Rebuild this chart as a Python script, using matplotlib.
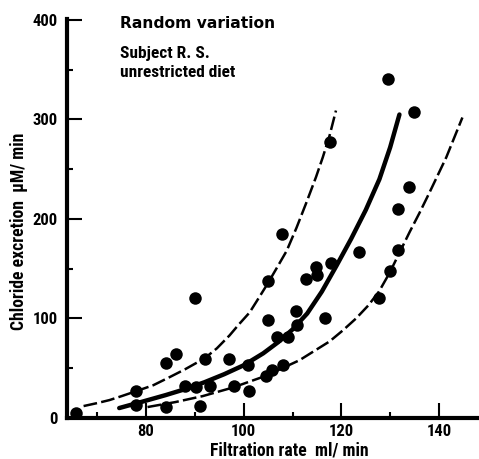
import matplotlib
matplotlib.use("Agg")
import matplotlib.pyplot as plt
from matplotlib import font_manager as fm
from matplotlib.ticker import MultipleLocator

# ---- data ----
filtration = [65.6, 78.0, 78.0, 84.0, 86.1, 84.0, 90.1, 88.0, 90.2, 93.0,
              92.0, 91.1, 97.0, 98.0, 100.8, 101.0, 104.9, 104.9, 104.6, 105.8,
              106.8, 109.0, 108.0, 110.7, 110.9, 112.8, 114.8, 115.0, 117.9, 116.7,
              123.6, 129.5, 134.8, 117.6, 133.8, 131.6, 107.9, 131.7, 129.9, 127.7]
chloride = [5, 27, 13, 55, 64, 11, 121, 32, 31, 32.5,
            59, 12, 59.5, 32.5, 53, 27, 137.6, 98.5, 42, 48,
            81, 81, 53, 107.6, 93.2, 140, 151.7, 143.4, 155.3, 100.6,
            166.7, 340.5, 308, 277, 232, 210.2, 184.5, 169, 147.7, 120.6]

upper_x = [67.2, 70.0, 72.5, 75.0, 78.0, 81.5, 84.8, 88.0, 92.0, 94.5, 97.1, 99.0,
           101.2, 103.0, 104.9, 106.8, 108.8, 110.8, 112.8, 114.8, 116.2, 117.6, 118.9]
upper_y = [12, 15, 18, 22, 27, 33, 41, 49, 60, 70, 83, 94,
           106, 120, 135, 151, 168, 191, 216, 242, 262, 284, 309]

mid_x = [74.5, 79.3, 84.0, 88.0, 92.0, 96.0, 100.0, 104.0, 107.0, 110.0, 113.0,
         116.0, 119.0, 122.0, 125.0, 127.8, 130.0, 131.9]
mid_y = [10, 16.5, 23, 29, 36, 44, 53, 65, 76, 89, 105,
         127, 153, 180, 209, 240, 272, 305]

lower_x = [80.3, 86.0, 91.6, 97.7, 104.6, 111.4, 117.6, 120.3, 123.0, 125.5, 127.7,
           129.9, 131.8, 134.0, 136.0, 138.0, 141.5, 144.8]
lower_y = [11, 16, 22, 30.5, 42.5, 58, 77, 88, 100, 113, 127,
           146, 165, 187, 206, 226, 262, 302]

x_major = [80, 100, 120, 140]
y_major = [0, 100, 200, 300, 400]

title_text = "Random variation"
note_lines = ["Subject R. S.", "unrestricted diet"]
xlabel_text = "Filtration rate  ml/ min"
ylabel_text = "Chloride excretion  \u00b5M/ min"

# ---- fonts: a narrow bold sans if one is installed ----
names = {f.name for f in fm.fontManager.ttflist}
if "Liberation Sans Narrow" in names:
    NARROW, tsize, lsize, nsize = ["Liberation Sans Narrow", "DejaVu Sans"], 12, 13.0, 12.8
elif "Roboto Condensed" in names:
    NARROW, tsize, lsize, nsize = ["Roboto Condensed", "DejaVu Sans"], 12, 12.7, 12.5
else:
    NARROW, tsize, lsize, nsize = ["Liberation Sans", "DejaVu Sans"], 11, 10.8, 11.0

W, H = 479, 459
fig = plt.figure(figsize=(W / 100, H / 100), dpi=100)
left_px, bottom_px, top_px = 66.5, 418, 19
ax = fig.add_axes([left_px / W, (H - bottom_px) / H, 1 - left_px / W, (bottom_px - top_px) / H])

ax.plot(upper_x, upper_y, color="black", lw=1.8, dashes=(5.5, 1.7))
ax.plot(lower_x, lower_y, color="black", lw=1.8, dashes=(5.5, 1.7))
ax.plot(mid_x, mid_y, color="black", lw=3.2, solid_capstyle="round", solid_joinstyle="round")
ax.plot(filtration, chloride, "o", color="black", ms=9, mew=0, clip_on=False, zorder=5)

ax.set_xlim(63.7, 148.2)
ax.set_ylim(0, 401)

for s in ("top", "right"):
    ax.spines[s].set_visible(False)
ax.spines["left"].set_linewidth(3.0)
ax.spines["bottom"].set_linewidth(3.0)

ax.set_xticks(x_major)
ax.set_yticks(y_major)
ax.xaxis.set_minor_locator(MultipleLocator(10))
ax.yaxis.set_minor_locator(MultipleLocator(50))
ax.tick_params(which="major", direction="in", length=11, width=1.5, color="black")
ax.tick_params(which="minor", direction="in", length=4.5, width=1.5, color="black")
ax.tick_params(axis="y", which="major", pad=6.5)
ax.tick_params(axis="x", which="major", pad=4.5)

for lab in ax.get_xticklabels() + ax.get_yticklabels():
    lab.set_family(NARROW)
    lab.set_fontweight("bold")
    lab.set_fontsize(tsize)

ax.set_xlabel(xlabel_text, family=NARROW, fontweight="bold", fontsize=lsize)
ax.set_ylabel(ylabel_text, family=NARROW, fontweight="bold", fontsize=lsize)
ax.xaxis.set_label_coords((289 - left_px) / (W - left_px), (bottom_px - 441.5) / (bottom_px - top_px))
ax.yaxis.set_label_coords((28 - left_px) / (W - left_px), (bottom_px - 231) / (bottom_px - top_px))

fig.text(120 / W, (H - 28) / H, title_text, family=["DejaVu Sans"], fontweight="bold",
         fontsize=11.2, ha="left", va="baseline")
fig.text(120 / W, (H - 58) / H, note_lines[0], family=NARROW, fontweight="bold",
         fontsize=nsize, ha="left", va="baseline")
fig.text(120 / W, (H - 77) / H, note_lines[1], family=NARROW, fontweight="bold",
         fontsize=nsize, ha="left", va="baseline")

fig.savefig("out.png", dpi=100)
